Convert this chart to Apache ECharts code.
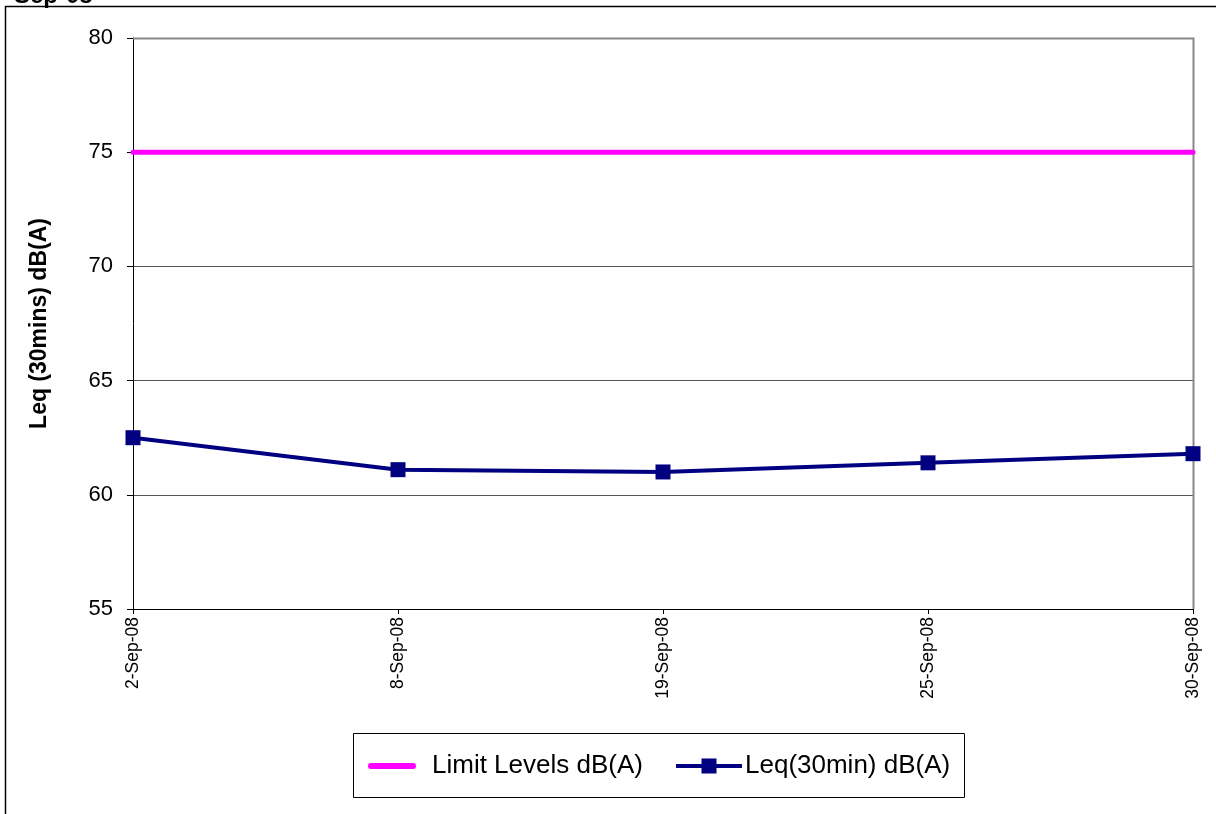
<!DOCTYPE html>
<html><head><meta charset="utf-8">
<script src="https://cdn.jsdelivr.net/npm/echarts@6/dist/echarts.min.js"></script>
<style>html,body{margin:0;padding:0;background:#fff}#c{width:1216px;height:814px}</style>
</head><body><div id="c"></div>
<script>
const categories = ['2-Sep-08','8-Sep-08','19-Sep-08','25-Sep-08','30-Sep-08'];
const limitLevels = [75, 75, 75, 75, 75];
const leqValues = [62.5, 61.1, 61.0, 61.4, 61.8];
const yTicks = {min: 55, max: 80, interval: 5};

const chart = echarts.init(document.getElementById('c'));
const F = 'Arial, "Liberation Sans", sans-serif';
chart.setOption({
  animation: false,
  backgroundColor: '#fff',
  title: {text: 'Sep-08', left: 14, top: -16, padding: 0, textStyle: {fontFamily: F, fontWeight: 'bold', fontSize: 24, color: '#000'}},
  graphic: [
    {type: 'rect', shape: {x: 5.5, y: 6.5, width: 1300, height: 900}, style: {fill: '#fff', stroke: '#000', lineWidth: 1.5}, z: -10},
    {type: 'polyline', shape: {points: [[133, 38.5], [1193.5, 38.5], [1193.5, 609]]}, style: {fill: 'none', stroke: '#888', lineWidth: 2}, z: 1},
    {type: 'rect', shape: {x: 353.5, y: 733.5, width: 611, height: 64}, style: {fill: 'none', stroke: '#000', lineWidth: 1}, z: 1}
  ],
  grid: {left: 133, right: 23, top: 38, bottom: 205, containLabel: false},
  legend: [
    {
      left: 368, top: 753, padding: 0, selectedMode: false,
      itemWidth: 48, itemHeight: 6,
      textStyle: {fontFamily: F, fontSize: 26, color: '#000', padding: [0, 0, 0, 11]},
      data: [{name: 'Limit Levels dB(A)', icon: 'path://M3,0 H45 A3,3 0 0 1 45,6 H3 A3,3 0 0 1 3,0 Z', itemStyle: {color: '#ff00ff'}}]
    },
    {
      left: 676, top: 753, padding: 0, selectedMode: false,
      itemWidth: 66, itemHeight: 15,
      textStyle: {fontFamily: F, fontSize: 26, color: '#000', padding: [0, 0, 0, -2]},
      data: [{name: 'Leq(30min) dB(A)', icon: 'path://M0,5.5 H25.5 V0 H40.5 V5.5 H66 V9.5 H40.5 V15 H25.5 V9.5 H0 Z', itemStyle: {color: '#000080'}}]
    }
  ],
  xAxis: {
    type: 'category', data: categories, boundaryGap: false,
    axisLine: {lineStyle: {color: '#000', width: 1}},
    axisTick: {show: true, alignWithLabel: true, length: 5, lineStyle: {color: '#000'}},
    axisLabel: {rotate: 90, fontFamily: F, fontSize: 17.5, color: '#000', margin: 8}
  },
  yAxis: {
    type: 'value', min: yTicks.min, max: yTicks.max, interval: yTicks.interval,
    name: 'Leq (30mins) dB(A)', nameLocation: 'middle', nameGap: 82, nameRotate: 90,
    nameTextStyle: {fontFamily: F, fontWeight: 'bold', fontSize: 23, color: '#000'},
    axisLine: {show: true, lineStyle: {color: '#000', width: 1}},
    axisTick: {show: true, length: 6, lineStyle: {color: '#000'}},
    axisLabel: {fontFamily: F, fontSize: 22, color: '#000', margin: 20},
    splitLine: {show: true, lineStyle: {color: '#555', width: 1}}
  },
  series: [
    {name: 'Limit Levels dB(A)', type: 'line', data: limitLevels, symbol: 'none', lineStyle: {color: '#ff00ff', width: 5, cap: 'round'}, itemStyle: {color: '#ff00ff'}, z: 3},
    {name: 'Leq(30min) dB(A)', type: 'line', data: leqValues, symbol: 'rect', symbolSize: 15, lineStyle: {color: '#000080', width: 4}, itemStyle: {color: '#000080'}, z: 4}
  ]
});
</script></body></html>
